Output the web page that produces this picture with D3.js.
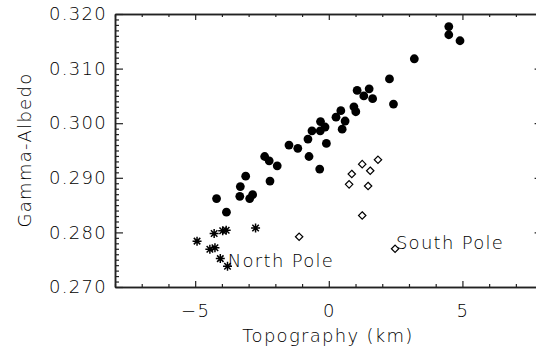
<!DOCTYPE html>
<html>
<head>
<meta charset="utf-8">
<script src="https://cdn.jsdelivr.net/npm/d3@7"></script>
<style>
  body { margin: 0; background: #fff; }
  text { font-family: "DejaVu Sans", sans-serif; font-weight: 200; fill: #000; }
</style>
</head>
<body>
<script>
// mid latitude points (filled circles)
const midTopo = [-4.20, -3.83, -3.31, -3.33, -3.11, -2.96, -2.85, -2.40, -2.23, -1.93,
  -2.20, -1.49, -1.16, -0.74, -0.78, -0.63, -0.31, -0.14, -0.32, -0.09,
  -0.34, 0.27, 0.45, 0.61, 0.50, 0.94, 1.01, 1.06, 1.51, 1.31,
  1.64, 2.27, 2.42, 3.20, 4.49, 4.49, 4.91];
const midAlbedo = [0.2862, 0.2837, 0.2884, 0.2866, 0.2903, 0.2862, 0.2869, 0.2939, 0.2931, 0.2922,
  0.2894, 0.2960, 0.2954, 0.2939, 0.2971, 0.2986, 0.3003, 0.2993, 0.2986, 0.2963,
  0.2916, 0.3011, 0.3023, 0.3004, 0.2989, 0.3030, 0.3021, 0.3060, 0.3063, 0.3050,
  0.3045, 0.3081, 0.3035, 0.3118, 0.3177, 0.3162, 0.3151];

// north pole (asterisks)
const northTopo = [-4.93, -4.29, -3.97, -3.84, -4.45, -4.26, -4.06, -3.79, -2.74];
const northAlbedo = [0.2784, 0.2798, 0.2803, 0.2804, 0.2769, 0.2772, 0.2752, 0.2738, 0.2808];

// south pole (open diamonds)
const southTopo = [1.84, 1.25, 1.55, 0.86, 0.76, 1.47, 1.25, -1.11, 2.48];
const southAlbedo = [0.2933, 0.2925, 0.2913, 0.2907, 0.2888, 0.2885, 0.2831, 0.2792, 0.2770];

const xMajor = [-5, 0, 5];
const xMinor = [-8, -7, -6, -4, -3, -2, -1, 1, 2, 3, 4, 6, 7, 8];
const yMajor = [0.270, 0.280, 0.290, 0.300, 0.310, 0.320];

const labelText = ['North Pole', 'South Pole'];
const labelTopo = [-3.78, 2.51];
const labelAlbedo = [0.2737, 0.2770];

const W = 536, H = 348;
const svg = d3.select('body').append('svg')
  .attr('width', W)
  .attr('height', H);

const x = d3.scaleLinear().domain([-8, 8]).range([115, 542.6]);
const y = d3.scaleLinear().domain([0.270, 0.320]).range([287, 14]);

const yMinor = d3.range(270, 321).filter(v => v % 10 !== 0).map(v => v / 1000);

const styleAxis = (g) => {
  g.select('.domain').attr('stroke', '#222').attr('stroke-width', 1.5);
  g.selectAll('.tick line').attr('stroke', '#222').attr('stroke-width', 1.2);
  g.selectAll('text').style('font-size', '18px').style('letter-spacing', '1.3px')
    .attr('fill', '#000');
};

// bottom
svg.append('g').attr('transform', `translate(0,${y(0.270)})`)
  .call(d3.axisBottom(x).tickValues(xMinor).tickSize(-3).tickSizeOuter(0).tickFormat(''))
  .call(styleAxis);
svg.append('g').attr('transform', `translate(0,${y(0.270)})`)
  .call(d3.axisBottom(x).tickValues(xMajor).tickSize(-6).tickSizeOuter(0).tickPadding(17)
    .tickFormat(d => d < 0 ? '\u2212' + Math.abs(d) : d))
  .call(styleAxis);
// top
svg.append('g').attr('transform', `translate(0,${y(0.320)})`)
  .call(d3.axisTop(x).tickValues(xMinor).tickSize(-3).tickSizeOuter(0).tickFormat(''))
  .call(styleAxis);
svg.append('g').attr('transform', `translate(0,${y(0.320)})`)
  .call(d3.axisTop(x).tickValues(xMajor).tickSize(-6).tickSizeOuter(0).tickFormat(''))
  .call(styleAxis);
// left
svg.append('g').attr('transform', `translate(${x(-8)},0)`)
  .call(d3.axisLeft(y).tickValues(yMinor).tickSize(-4).tickSizeOuter(0).tickFormat(''))
  .call(styleAxis);
svg.append('g').attr('transform', `translate(${x(-8)},0)`)
  .call(d3.axisLeft(y).tickValues(yMajor).tickSize(-8).tickSizeOuter(0).tickPadding(8)
    .tickFormat(d3.format('.3f')))
  .call(styleAxis);
// right
svg.append('g').attr('transform', `translate(${x(8)},0)`)
  .call(d3.axisRight(y).tickValues(yMinor).tickSize(-4).tickSizeOuter(0).tickFormat(''))
  .call(styleAxis);
svg.append('g').attr('transform', `translate(${x(8)},0)`)
  .call(d3.axisRight(y).tickValues(yMajor).tickSize(-8).tickSizeOuter(0).tickFormat(''))
  .call(styleAxis);

// axis titles
svg.append('text')
  .attr('x', 328).attr('y', 342)
  .attr('text-anchor', 'middle')
  .style('font-size', '18px').style('letter-spacing', '1.3px')
  .text('Topography (km)');
svg.append('text')
  .attr('transform', 'translate(31,150) rotate(-90)')
  .attr('text-anchor', 'middle')
  .style('font-size', '18px').style('letter-spacing', '1.3px')
  .text('Gamma-Albedo');

// mid latitude circles
svg.append('g').selectAll('circle')
  .data(d3.zip(midTopo, midAlbedo))
  .enter()
  .append('circle')
  .attr('cx', d => x(d[0]))
  .attr('cy', d => y(d[1]))
  .attr('r', 4.4)
  .attr('fill', '#000');

// north pole asterisks
const r = 4.5, q = r * 0.72;
const star = `M${-r},0L${r},0M0,${-r}L0,${r}M${-q},${-q}L${q},${q}M${-q},${q}L${q},${-q}`;
svg.append('g').selectAll('path')
  .data(d3.zip(northTopo, northAlbedo))
  .enter()
  .append('path')
  .attr('transform', d => `translate(${x(d[0])},${y(d[1])})`)
  .attr('d', star)
  .attr('stroke', '#000')
  .attr('stroke-width', 1.5)
  .attr('fill', 'none');

// south pole diamonds
const s = 3.7;
svg.append('g').selectAll('path')
  .data(d3.zip(southTopo, southAlbedo))
  .enter()
  .append('path')
  .attr('transform', d => `translate(${x(d[0])},${y(d[1])})`)
  .attr('d', `M0,${-s}L${s},0L0,${s}L${-s},0Z`)
  .attr('stroke', '#000')
  .attr('stroke-width', 1.2)
  .attr('fill', 'none');

// pole labels
svg.append('g').selectAll('text')
  .data(d3.zip(labelText, labelTopo, labelAlbedo))
  .enter()
  .append('text')
  .attr('x', d => x(d[1]))
  .attr('y', d => y(d[2]))
  .style('font-size', '18px').style('letter-spacing', '1.3px')
  .text(d => d[0]);
</script>
</body>
</html>
